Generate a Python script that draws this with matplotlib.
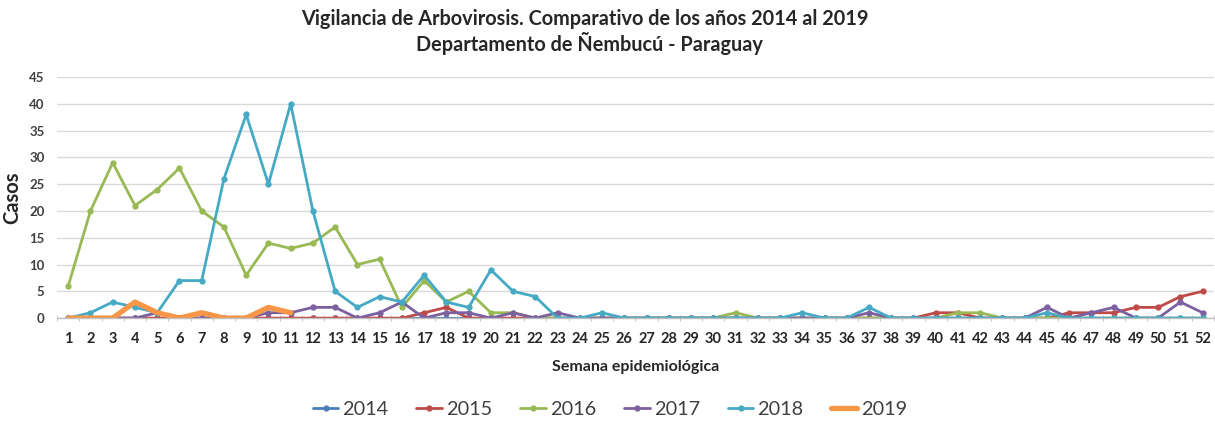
import numpy as np
import matplotlib
matplotlib.use('Agg')
import matplotlib.pyplot as plt

plt.rcParams['font.family'] = ['Lato', 'DejaVu Sans']

weeks = list(range(1, 53))

casos_2014 = [0] * 52

casos_2015 = [0, 0, 0, 0, 0, 0, 0, 0, 0, 0, 0, 0, 0, 0, 0, 0, 1, 2, 0, 0,
              0, 0, 0, 0, 0, 0, 0, 0, 0, 0, 0, 0, 0, 0, 0, 0, 0, 0, 0, 1,
              1, 0, 0, 0, 0, 1, 1, 1, 2, 2, 4, 5]

casos_2016 = [6, 20, 29, 21, 24, 28, 20, 17, 8, 14, 13, 14, 17, 10, 11, 2, 7, 3, 5, 1,
              1, 0, 0, 0, 0, 0, 0, 0, 0, 0, 1, 0, 0, 0, 0, 0, 0, 0, 0, 0,
              1, 1, 0, 0, 0, 0, 0, 0, 0, 0, 0, 0]

casos_2017 = [0, 0, 0, 0, 1, 0, 0, 0, 0, 1, 1, 2, 2, 0, 1, 3, 0, 1, 1, 0,
              1, 0, 1, 0, 0, 0, 0, 0, 0, 0, 0, 0, 0, 0, 0, 0, 1, 0, 0, 0,
              0, 0, 0, 0, 2, 0, 1, 2, 0, 0, 3, 1]

casos_2018 = [0, 1, 3, 2, 1, 7, 7, 26, 38, 25, 40, 20, 5, 2, 4, 3, 8, 3, 2, 9,
              5, 4, 0, 0, 1, 0, 0, 0, 0, 0, 0, 0, 0, 1, 0, 0, 2, 0, 0, 0,
              0, 0, 0, 0, 1, 0, 0, 0, 0, 0, 0, 0]

casos_2019 = [0, 0, 0, 3, 1, 0, 1, 0, 0, 2, 1]

series = [
    ('2014', casos_2014, '#4A7EBB'),
    ('2015', casos_2015, '#BE4B48'),
    ('2016', casos_2016, '#98B954'),
    ('2017', casos_2017, '#7D60A0'),
    ('2018', casos_2018, '#46AAC5'),
]

fig = plt.figure(figsize=(12.15, 4.23), dpi=100)
ax = fig.add_axes([0.047, 0.248, 0.952, 0.570])

for name, vals, color in series:
    ax.plot(weeks, vals, color=color, lw=2.0, marker='o', ms=3.5,
            label=name, solid_capstyle='round')

ax.plot(weeks[:len(casos_2019)], casos_2019, color='#F79646', lw=3.8,
        label='2019', solid_capstyle='round', solid_joinstyle='round')

ax.set_xlim(0.5, 52.5)
ax.set_ylim(0, 45)
ax.set_yticks(np.arange(0, 50, 5))
ax.set_xticks(weeks)
ax.set_xticks(np.arange(0.5, 53, 1), minor=True)
ax.grid(axis='y', color='#D9D9D9', lw=1.0)
ax.set_axisbelow(True)

for s in ['top', 'right', 'left']:
    ax.spines[s].set_visible(False)
ax.spines['bottom'].set_color('#BFBFBF')
ax.spines['bottom'].set_linewidth(1.0)

ax.tick_params(axis='y', length=0, pad=9, labelsize=9.5, labelcolor='#404040')
for lbl in ax.get_yticklabels():
    lbl.set_fontweight('bold')
ax.tick_params(axis='x', which='major', length=0, pad=10, labelsize=10.5, labelcolor='#262626')
for lbl in ax.get_xticklabels():
    lbl.set_fontweight('bold')
ax.tick_params(axis='x', which='minor', length=5, direction='inout', color='#BFBFBF')

ax.set_ylabel('Casos', fontsize=14.5, fontweight='bold', color='#262626', labelpad=5)
ax.set_xlabel('Semana epidemiológica', fontsize=11.5, fontweight='bold', color='#262626', labelpad=10)

fig.text(0.481, 0.955, 'Vigilancia de Arbovirosis. Comparativo de los años 2014 al 2019',
         ha='center', va='center', fontsize=14.3, fontweight='bold', color='#262626')
fig.text(0.485, 0.897, 'Departamento de Ñembucú - Paraguay',
         ha='center', va='center', fontsize=14.3, fontweight='bold', color='#262626')

leg = fig.legend(loc='center', bbox_to_anchor=(0.502, 0.033), ncol=6, frameon=False,
                 fontsize=14.3, handlelength=1.3, handletextpad=0.2, columnspacing=1.4)
for t in leg.get_texts():
    t.set_color('#404040')

fig.savefig('out.png', dpi=100)
